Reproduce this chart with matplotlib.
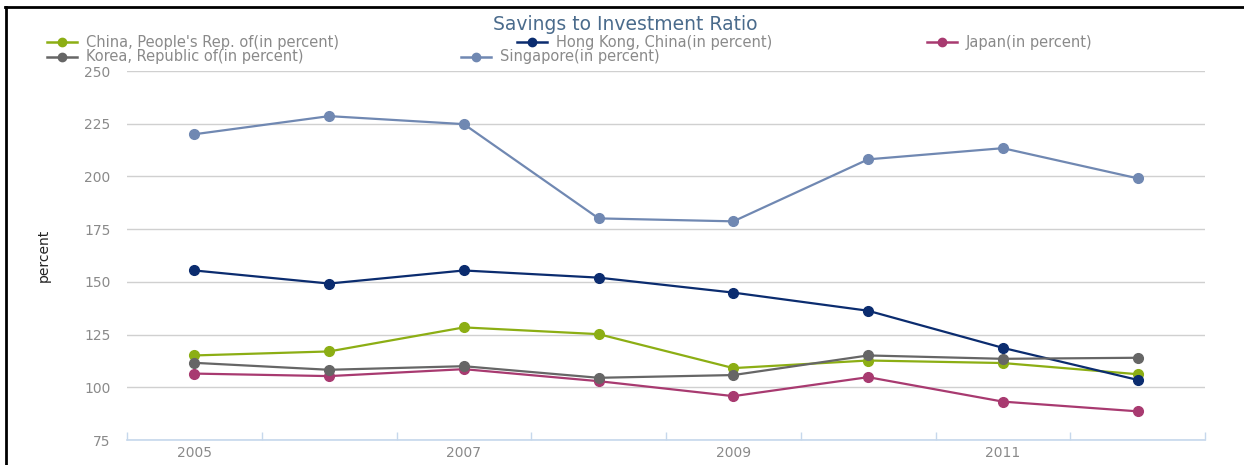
import numpy as np
import matplotlib
matplotlib.use("Agg")
import matplotlib.pyplot as plt
from matplotlib.lines import Line2D

# -------------------------------------------------------------------------------------
# Data
years = [2005, 2006, 2007, 2008, 2009, 2010, 2011, 2012]
year_labels = ['2005', '', '2007', '', '2009', '', '2011', '']

china = [115.1, 117.0, 128.4, 125.2, 109.1, 112.7, 111.5, 106.2]
hong_kong = [155.4, 149.2, 155.4, 152.0, 144.9, 136.3, 118.7, 103.5]
japan = [106.5, 105.3, 108.6, 102.9, 95.8, 104.8, 93.2, 88.6]
korea = [111.6, 108.3, 110.0, 104.5, 105.8, 115.1, 113.5, 114.0]
singapore = [220.0, 228.6, 224.8, 180.1, 178.7, 208.1, 213.4, 199.1]

series_names = ["China, People's Rep. of(in percent)", 'Hong Kong, China(in percent)',
                'Japan(in percent)', 'Korea, Republic of(in percent)', 'Singapore(in percent)']
series_values = [china, hong_kong, japan, korea, singapore]
series_colors = ['#8cae14', '#0b2c6f', '#a83a70', '#666666', '#7088b2']

y_ticks = [75, 100, 125, 150, 175, 200, 225, 250]
# -------------------------------------------------------------------------------------

W, H = 1244, 465
fig = plt.figure(figsize=(W / 100, H / 100), dpi=100)
fig.patch.set_facecolor('white')

# plot area in pixels
left, right, top, bottom = 127, 1205, 71, 440
ax = fig.add_axes([left / W, 1 - bottom / H, (right - left) / W, (bottom - top) / H])

x = np.arange(len(years))
for name, vals, col in zip(series_names, series_values, series_colors):
    ax.plot(x, vals, color=col, lw=1.6, marker='o', ms=7, mec=col, mfc=col, label=name, zorder=3)

ax.set_xlim(-0.5, len(years) - 0.5)
ax.set_ylim(75, 250)

ax.set_yticks(y_ticks)
ax.set_yticklabels([str(v) for v in y_ticks], fontsize=10, color='#8a8a8a', family='DejaVu Sans')
ax.tick_params(axis='y', length=0, pad=12)
ax.grid(axis='y', color='#d0d0d0', lw=1)

ax.set_xticks(x)
ax.set_xticklabels(year_labels, fontsize=10, color='#8a8a8a', family='DejaVu Sans')
ax.set_xticks(np.arange(len(years) + 1) - 0.5, minor=True)
ax.tick_params(axis='x', which='major', length=0, pad=4)
ax.tick_params(axis='x', which='minor', length=6, color='#c6d8ec', width=1, direction='in')
ax.xaxis.set_ticks_position('bottom')

for s in ['top', 'right', 'left']:
    ax.spines[s].set_visible(False)
ax.spines['bottom'].set_color('#c6d8ec')
ax.spines['bottom'].set_linewidth(1.2)

ax.set_ylabel('percent', fontsize=10, color='#222222', family='Liberation Sans Narrow', labelpad=24)

# title
fig.text(625 / W, 1 - 25 / H, 'Savings to Investment Ratio', ha='center', va='center',
         fontsize=13.5, color='#4a6b8c', family='DejaVu Sans')

# legend, two rows: (marker centre x, row y) for each entry
legend_pos = [(62, 42), (532, 42), (942, 42), (62, 57), (476, 57)]
for i, (mx, my) in enumerate(legend_pos):
    yy = 1 - my / H
    fig.add_artist(Line2D([(mx - 15) / W, (mx + 15) / W], [yy, yy], color=series_colors[i], lw=1.8))
    fig.add_artist(Line2D([mx / W], [yy], color=series_colors[i], marker='o', ms=6, lw=0))
    fig.text((mx + 24) / W, yy, series_names[i], ha='left', va='center',
             fontsize=10.5, color='#8a8a8a', family='DejaVu Sans')

# frame lines along top and left edges
fig.add_artist(Line2D([5 / W, 1], [1 - 7.5 / H] * 2, color='black', lw=2))
fig.add_artist(Line2D([6 / W] * 2, [0, 1 - 7 / H], color='black', lw=2))

fig.savefig('out.png', dpi=100)
plt.close()
